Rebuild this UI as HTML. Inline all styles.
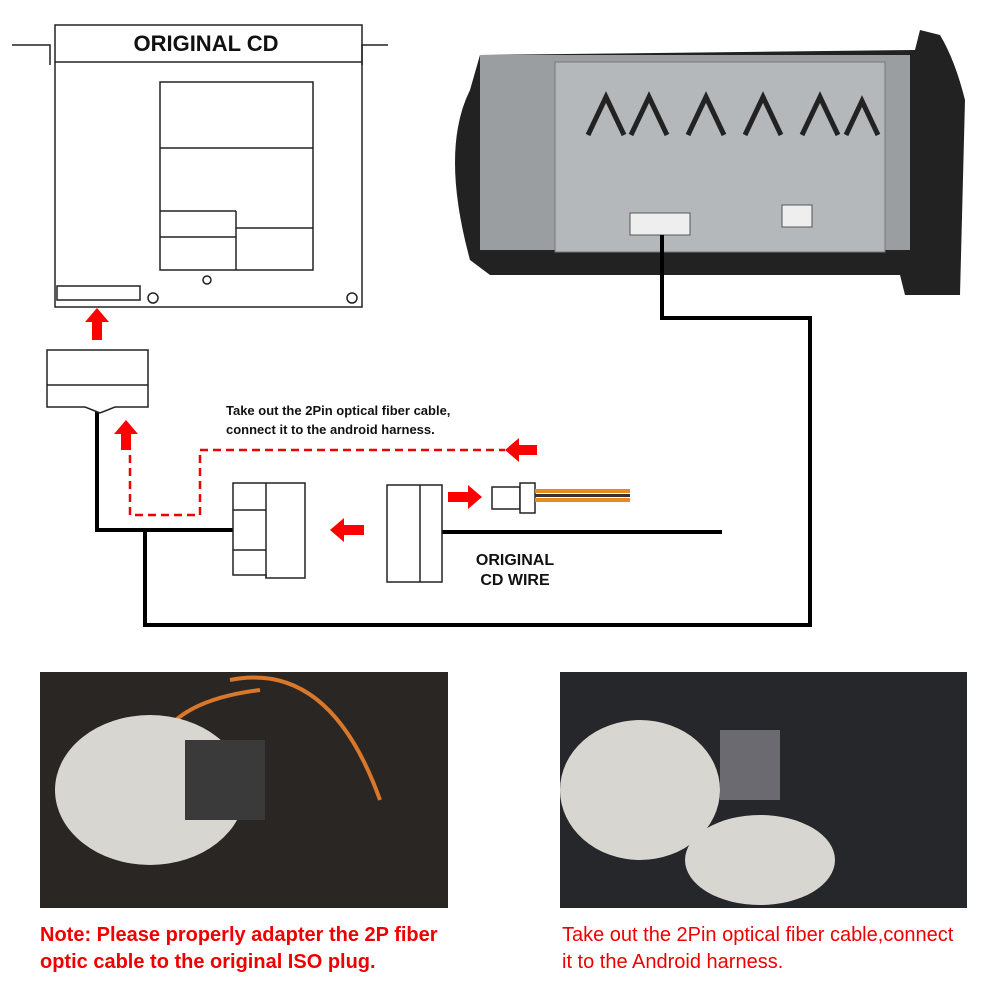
<!DOCTYPE html>
<html><head><meta charset="utf-8"><style>
body{margin:0;background:#fff;}
svg{display:block;font-family:"Liberation Sans",sans-serif;}
</style></head><body>
<svg width="1000" height="1000" viewBox="0 0 1000 1000" xmlns="http://www.w3.org/2000/svg">
<rect width="1000" height="1000" fill="#fff"/>
<!-- Original CD -->
<g fill="none" stroke="#222" stroke-width="1.5">
<path d="M12 45 H50 V65 M388 45 H362 V65"/>
<rect x="55" y="25" width="307" height="282"/>
<line x1="55" y1="62" x2="362" y2="62"/>
<rect x="160" y="82" width="153" height="188"/>
<line x1="160" y1="148" x2="313" y2="148"/>
<line x1="160" y1="211" x2="236" y2="211"/>
<line x1="236" y1="211" x2="236" y2="270"/>
<line x1="160" y1="237" x2="236" y2="237"/>
<line x1="236" y1="228" x2="313" y2="228"/>
<rect x="57" y="286" width="83" height="14"/>
<circle cx="153" cy="298" r="5"/><circle cx="352" cy="298" r="5"/>
<circle cx="207" cy="280" r="4"/>
</g>
<text x="206" y="51" font-size="22" font-weight="bold" text-anchor="middle" fill="#111">ORIGINAL CD</text>
<!-- head unit -->
<path d="M470 90 Q440 150 470 260 L490 275 L900 275 L905 295 L960 295 L965 100 Q955 60 940 35 L920 30 L915 50 L480 55 Z" fill="#222"/>
<rect x="480" y="55" width="430" height="195" fill="#9a9ea1"/>
<rect x="555" y="62" width="330" height="190" fill="#b5b8ba" stroke="#777"/>
<path d="M588 135 l18 -38 l18 38 M631 135 l18 -38 l18 38 M688 135 l18 -38 l18 38 M745 135 l18 -38 l18 38 M802 135 l18 -38 l18 38 M846 135 l16 -34 l16 34" stroke="#222" stroke-width="5" fill="none"/>
<path d="M658 105 l-18 30 M716 105 l18 30" stroke="none" fill="none"/>
<rect x="630" y="213" width="60" height="22" fill="#eee" stroke="#555"/>
<rect x="782" y="205" width="30" height="22" fill="#eee" stroke="#555"/>
<!-- wiring -->
<g fill="none" stroke="#000" stroke-width="4">
<path d="M662 235 V318 H810 V625 H145 V530"/>
<path d="M97 407 V530 H233"/>
<line x1="442" y1="532" x2="722" y2="532"/>
</g>
<path d="M130 455 V515 H200 V450 H505" fill="none" stroke="#e00" stroke-width="2.5" stroke-dasharray="8,5"/>
<g fill="#f00">
<path d="M97 308 l-12 14 h7 v18 h10 v-18 h7 z"/>
<path d="M126 420 l-12 14 h7 v16 h10 v-16 h7 z"/>
<path d="M505 450 l14 -12 v7 h18 v10 h-18 v7 z"/>
<path d="M330 530 l14 -12 v7 h20 v10 h-20 v7 z"/>
<path d="M482 497 l-14 -12 v7 h-20 v10 h20 v7 z"/>
</g>
<!-- connectors -->
<g fill="#fff" stroke="#222" stroke-width="1.5">
<path d="M47 350 H148 V407 H115 L100 413 L85 407 H47 Z"/>
<line x1="47" y1="385" x2="148" y2="385"/>
<path d="M233 483 H305 V578 H266 V575 H233 Z"/>
<line x1="266" y1="483" x2="266" y2="578"/>
<line x1="233" y1="510" x2="266" y2="510"/><line x1="233" y1="550" x2="266" y2="550"/>
<path d="M387 485 H442 V582 H387 Z"/>
<line x1="420" y1="485" x2="420" y2="582"/>
<rect x="492" y="487" width="28" height="22"/>
<rect x="520" y="483" width="15" height="30"/>
</g>
<rect x="535" y="489" width="95" height="4" fill="#e88a1e"/>
<rect x="535" y="494" width="95" height="3" fill="#333"/>
<rect x="535" y="498" width="95" height="4" fill="#e88a1e"/>
<text x="226" y="415" font-size="13" font-weight="bold" fill="#111">Take out the 2Pin optical fiber cable,</text>
<text x="226" y="434" font-size="13" font-weight="bold" fill="#111">connect it to the android harness.</text>
<text x="515" y="565" font-size="16" font-weight="bold" text-anchor="middle" fill="#111">ORIGINAL</text>
<text x="515" y="585" font-size="16" font-weight="bold" text-anchor="middle" fill="#111">CD WIRE</text>
<!-- photos -->
<rect x="40" y="672" width="408" height="236" fill="#2a2623"/>
<path d="M230 680 Q330 660 380 800 M160 740 Q180 700 260 690" stroke="#d9772a" stroke-width="4" fill="none"/>
<ellipse cx="150" cy="790" rx="95" ry="75" fill="#d8d6d0"/>
<rect x="185" y="740" width="80" height="80" fill="#3a3a3a"/>
<rect x="560" y="672" width="407" height="236" fill="#25272a"/>
<ellipse cx="640" cy="790" rx="80" ry="70" fill="#d8d6d0"/>
<ellipse cx="760" cy="860" rx="75" ry="45" fill="#d8d6d0"/>
<rect x="720" y="730" width="60" height="70" fill="#6a6a70"/>
<text x="40" y="941" font-size="20" font-weight="bold" fill="#e00">Note: Please properly adapter the 2P fiber</text>
<text x="40" y="968" font-size="20" font-weight="bold" fill="#e00">optic cable to the original ISO plug.</text>
<text x="562" y="941" font-size="20" fill="#e00">Take out the 2Pin optical fiber cable,connect</text>
<text x="562" y="968" font-size="20" fill="#e00">it to the Android harness.</text>
</svg>
</body></html>
